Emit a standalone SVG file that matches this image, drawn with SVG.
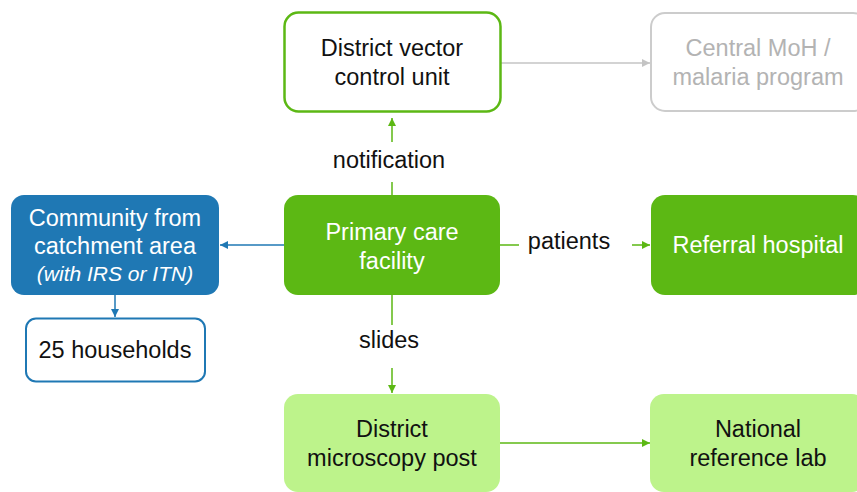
<svg xmlns="http://www.w3.org/2000/svg" width="857" height="492" viewBox="0 0 857 492">
<style>
text{font-family:"Liberation Sans",Arial,sans-serif;font-size:23.5px;text-anchor:middle;fill:#111}
.w{fill:#fff}
.g{fill:#b3b3b3}
.it{font-style:italic;font-size:21px}
.lg{stroke:#5cb814;stroke-width:1.5;fill:none}
.lb{stroke:#1f78b4;stroke-width:1.5;fill:none}
.lgr{stroke:#c4c4c4;stroke-width:1.5;fill:none}
</style>
<defs>
<marker id="ag" viewBox="0 0 8 8" refX="8" refY="4" markerWidth="8" markerHeight="8" markerUnits="userSpaceOnUse" orient="auto"><path d="M0,0L8,4L0,8z" fill="#5cb814"/></marker>
<marker id="ab" viewBox="0 0 8 8" refX="8" refY="4" markerWidth="8" markerHeight="8" markerUnits="userSpaceOnUse" orient="auto"><path d="M0,0L8,4L0,8z" fill="#1f78b4"/></marker>
<marker id="agr" viewBox="0 0 8 8" refX="8" refY="4" markerWidth="8" markerHeight="8" markerUnits="userSpaceOnUse" orient="auto"><path d="M0,0L8,4L0,8z" fill="#c4c4c4"/></marker>
</defs>
<g id="connectors">
<path class="lgr" d="M501,63H650" marker-end="url(#agr)"/>
<path class="lg" d="M392,195V182M392,142V118" marker-end="url(#ag)"/>
<path class="lb" d="M284,245H220" marker-end="url(#ab)"/>
<path class="lb" d="M115,295V317" marker-end="url(#ab)"/>
<path class="lg" d="M500,245H519M632,245H650" marker-end="url(#ag)"/>
<path class="lg" d="M392,295V325M392,368V393" marker-end="url(#ag)"/>
<path class="lg" d="M500,443H650" marker-end="url(#ag)"/>
<text x="389" y="168">notification</text>
<text x="569" y="249">patients</text>
<text x="389" y="348">slides</text>
</g>
<g id="dvcu">
<rect x="284.5" y="12.5" width="216" height="99" rx="14" fill="#fff" stroke="#5cb814" stroke-width="2.5"/>
<text x="392" y="56">District vector</text>
<text x="392" y="85">control unit</text>
</g>
<g id="central">
<rect x="651" y="13" width="216" height="98" rx="14" fill="#fff" stroke="#cccccc" stroke-width="2"/>
<text class="g" x="758" y="56">Central MoH /</text>
<text class="g" x="758" y="85">malaria program</text>
</g>
<g id="community">
<rect x="11" y="195" width="208" height="100" rx="13" fill="#1f78b4"/>
<text class="w" x="115" y="226">Community from</text>
<text class="w" x="115" y="254">catchment area</text>
<text class="w it" x="115" y="281">(with IRS or ITN)</text>
</g>
<g id="households">
<rect x="26" y="318.5" width="179" height="63" rx="10" fill="#fff" stroke="#1f78b4" stroke-width="2"/>
<text x="115" y="358">25 households</text>
</g>
<g id="primary">
<rect x="284" y="195" width="216" height="100" rx="14" fill="#5cb814"/>
<text class="w" x="392" y="240">Primary care</text>
<text class="w" x="392" y="269">facility</text>
</g>
<g id="referral">
<rect x="651" y="195" width="216" height="100" rx="14" fill="#5cb814"/>
<text class="w" x="758" y="253">Referral hospital</text>
</g>
<g id="microscopy">
<rect x="284" y="394" width="216" height="98" rx="14" fill="#bdf38b"/>
<text x="392" y="437">District</text>
<text x="392" y="466">microscopy post</text>
</g>
<g id="national">
<rect x="650" y="394" width="216" height="98" rx="14" fill="#bdf38b"/>
<text x="758" y="437">National</text>
<text x="758" y="466">reference lab</text>
</g>
</svg>
